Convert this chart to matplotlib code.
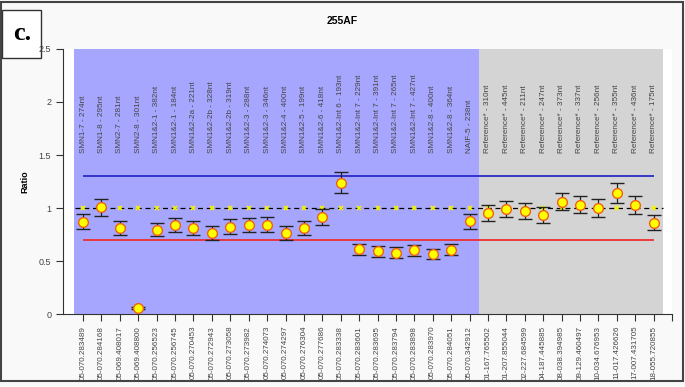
import matplotlib.pyplot as plt
import matplotlib.patches as mpatches
import numpy as np

plt.rcParams['font.family'] = ['Liberation Sans', 'DejaVu Sans']

# probe names (top labels)
probes = ["SMN1-7 - 274nt", "SMN1-8 - 295nt", "SMN2-7 - 281nt", "SMN2-8 - 301nt",
          "SMN1&2-1 - 382nt", "SMN1&2-1 - 184nt", "SMN1&2-2a - 221nt",
          "SMN1&2-2b - 328nt", "SMN1&2-2b - 319nt", "SMN1&2-3 - 288nt",
          "SMN1&2-3 - 346nt", "SMN1&2-4 - 400nt", "SMN1&2-5 - 199nt",
          "SMN1&2-6 - 418nt", "SMN1&2-Int 6 - 193nt", "SMN1&2-Int 7 - 229nt",
          "SMN1&2-Int 7 - 391nt", "SMN1&2-Int 7 - 265nt", "SMN1&2-Int 7 - 427nt",
          "SMN1&2-8 - 400nt", "SMN1&2-8 - 364nt", "NAIF-5 - 238nt",
          "Reference* - 310nt", "Reference* - 445nt", "Reference* - 211nt",
          "Reference* - 247nt", "Reference* - 373nt", "Reference* - 337nt",
          "Reference* - 256nt", "Reference* - 355nt", "Reference* - 436nt",
          "Reference* - 175nt"]

# chromosome positions (bottom tick labels)
positions = ["05-070.283489", "05-070.284168", "05-069.408017", "05-069.408800",
             "05-070.256523", "05-070.256745", "05-070.270453", "05-070.272943",
             "05-070.273058", "05-070.273982", "05-070.274073", "05-070.274297",
             "05-070.276304", "05-070.277686", "05-070.283338", "05-070.283601",
             "05-070.283695", "05-070.283794", "05-070.283898", "05-070.283970",
             "05-070.284051", "05-070.342912", "01-167.765502", "01-207.855044",
             "02-227.684599", "04-187.445885", "08-038.394985", "09-129.460497",
             "10-034.676953", "11-017.426626", "17-007.431705", "18-055.720855"]

ratio = [0.87, 1.005, 0.815, 0.06, 0.795, 0.84, 0.81, 0.765, 0.825, 0.84,
         0.843, 0.765, 0.808, 0.912, 1.237, 0.61, 0.59, 0.578, 0.60, 0.565,
         0.606, 0.874, 0.956, 0.994, 0.972, 0.934, 1.06, 1.032, 1.0, 1.143,
         1.029, 0.862]
err = [0.07, 0.08, 0.066, 0.01, 0.063, 0.07, 0.068, 0.063, 0.068, 0.07,
       0.068, 0.066, 0.065, 0.075, 0.10, 0.05, 0.05, 0.05, 0.05, 0.05,
       0.05, 0.072, 0.075, 0.075, 0.074, 0.073, 0.082, 0.083, 0.082, 0.092,
       0.083, 0.071]
expected = [1.0] * 32

n_probe = 22  # blue (test) region; the rest are reference probes
upper, lower = 1.3, 0.7

x = np.arange(len(ratio))

fig = plt.figure(figsize=(6.85, 3.87), dpi=100, facecolor='#f9f9f9')
ax = fig.add_axes([0.092, 0.1886, 0.889, 0.6848])
ax.set_facecolor('white')

ax.axvspan(-0.5, n_probe - 0.5, color='#a6a6ff', zorder=0, lw=0)
ax.axvspan(n_probe - 0.5, len(x) - 0.5, color='#d4d4d4', zorder=0, lw=0)

ax.hlines(upper, 0, len(x) - 1, color='#2b2bc8', lw=1.3, zorder=2)
ax.hlines(lower, 0, len(x) - 1, color='#ee3030', lw=1.3, zorder=2)
ax.hlines(1.0, -0.45, len(x) - 0.5, color='black', lw=0.9,
          linestyles=(0, (4, 3)), zorder=2)
ax.plot(x, expected, 'x', color='#f5f500', ms=3, mew=1.2, zorder=3)

ax.errorbar(x, ratio, yerr=err, fmt='o', ms=7, mfc='#ffff00', mec='#f06010',
            mew=1.0, ecolor='#222222', elinewidth=0.9, capsize=5,
            capthick=0.9, zorder=4)

for xi, name in zip(x, probes):
    ax.text(xi, 1.515, name, rotation=90, ha='center', va='bottom',
            fontsize=5.9, color='#444444')

ax.set_xlim(-1.09, 32.0)
ax.set_ylim(0, 2.5)
ax.set_xticks(x)
ax.set_xticklabels(positions, rotation=90, fontsize=5.8, color='#444444')
ax.set_yticks([0, 0.5, 1, 1.5, 2, 2.5])
ax.set_yticklabels(['0', '0.5', '1', '1.5', '2', '2.5'], fontsize=6.5,
                   color='#444444')
ax.tick_params(length=5, width=0.8, color='#333333')
ax.set_xticks([32.0], minor=True)
ax.tick_params(axis='x', which='minor', length=5, width=0.8, color='#333333')
for s in ['top', 'right']:
    ax.spines[s].set_visible(False)
for s in ['left', 'bottom']:
    ax.spines[s].set_color('#333333')
    ax.spines[s].set_linewidth(0.8)

ax.set_ylabel('Ratio', fontsize=6.5, fontweight='bold', labelpad=7)
fig.text(0.5, 0.945, '255AF', ha='center', va='center', fontsize=7.5,
         fontweight='bold')

# panel letter box
fig.patches.append(mpatches.Rectangle((0.003, 0.85), 0.057, 0.125,
                                      transform=fig.transFigure,
                                      facecolor='white', edgecolor='#333333',
                                      lw=1.0, zorder=-1))
fig.text(0.032, 0.913, 'c.', ha='center', va='center', fontsize=19,
         fontweight='bold', family='Liberation Serif')

# outer frame
fig.patches.append(mpatches.Rectangle((0.002, 0.015), 0.995, 0.98,
                                      transform=fig.transFigure, fill=False,
                                      edgecolor='#444444', lw=1.5))

fig.savefig('out.png', dpi=100, facecolor=fig.get_facecolor())
